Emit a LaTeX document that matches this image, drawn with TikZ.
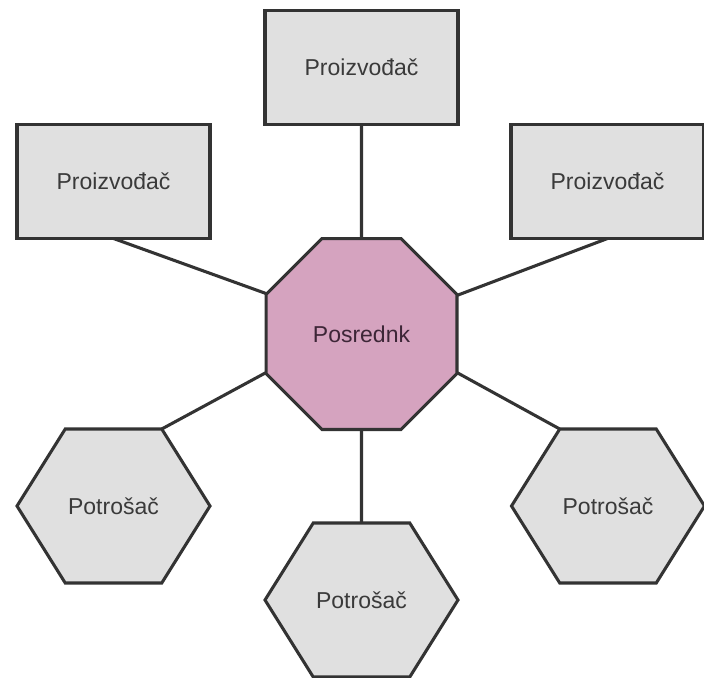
\documentclass[tikz,border=0pt]{standalone}
\usepackage{fontspec}
\setmainfont{Liberation Sans}
\usetikzlibrary{shapes.geometric}
\definecolor{gfill}{HTML}{E0E0E0}
\definecolor{pfill}{HTML}{D5A3BF}
\definecolor{edge}{HTML}{333333}
\definecolor{gtext}{HTML}{3A3A3A}
\definecolor{ptext}{HTML}{3D2637}
\tikzset{
  shapeline/.style={draw=edge, line width=2.3pt},
  lbl/.style={font=\fontsize{17.25}{20}\selectfont, text=gtext, inner sep=0pt},
  prodbox/.style={shapeline, fill=gfill, rectangle, minimum width=144.75pt, minimum height=85.5pt, inner sep=0pt, outer sep=0pt, lbl},
  hub/.style={shapeline, fill=pfill, regular polygon, regular polygon sides=8, minimum size=155pt, inner sep=0pt, outer sep=0pt, lbl, text=ptext},
  link/.style={draw=edge, line width=2.3pt},
  hexa/.pic={
    \draw[shapeline, fill=gfill] (-96.5,0) -- (-48.25,-77) -- (48.25,-77) -- (96.5,0) -- (48.25,77) -- (-48.25,77) -- cycle;
    \coordinate (-tl) at (-48.25,-77);
    \coordinate (-tr) at (48.25,-77);
    \coordinate (-top) at (0,-77);
    \node[lbl] (-t) at (0,0) {#1};
  }
}
\begin{document}
\begin{tikzpicture}[x=0.75pt, y=-0.75pt]
\useasboundingbox[fill=white] (0,0) rectangle (704,678);
% hub
\node[hub] (oct) at (361.5,334) {Posrednk};
% producers
\node[prodbox] (trect) at (361.5,67.5) {Proizvođač};
\node[prodbox] (lrect) at (113.5,181.5) {Proizvođač};
\node[prodbox] (rrect) at (607.5,181.5) {Proizvođač};
% consumers
\pic (lh) at (113.5,506) {hexa=Potrošač};
\pic (bh) at (361.5,600) {hexa=Potrošač};
\pic (rh) at (608,506) {hexa=Potrošač};
% connectors
\draw[link] (trect.south) -- (oct.north);
\draw[link] (lrect.south) -- (oct.157.5);
\draw[link] (rrect.south) -- (oct.22.5);
\draw[link] (lh-tr) -- (oct.202.5);
\draw[link] (rh-tl) -- (oct.-22.5);
\draw[link] (bh-top) -- (oct.south);
\end{tikzpicture}
\end{document}
